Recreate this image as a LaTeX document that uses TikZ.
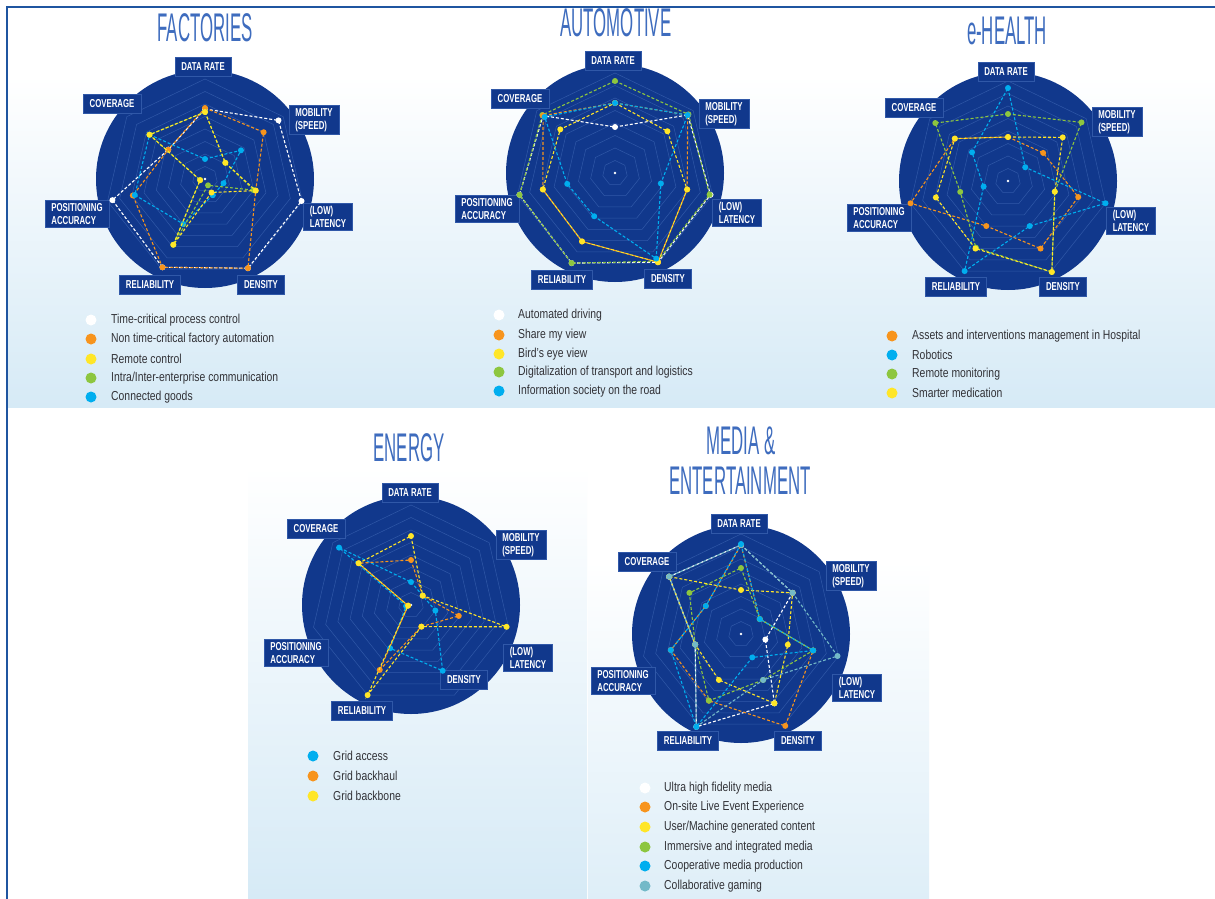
\documentclass[tikz,border=0pt]{standalone}
\usepackage{fontspec}
\setmainfont{Liberation Sans}
\newfontfamily\ttlfont[FakeStretch=0.42]{Liberation Sans}
\newfontfamily\lblfont[FakeStretch=0.68]{Liberation Sans}
\newfontfamily\lgdfont[FakeStretch=0.8]{Liberation Sans}
\usetikzlibrary{calc}
\definecolor{navy}{RGB}{17,56,140}
\definecolor{ringc}{RGB}{48,88,168}
\definecolor{lblue}{RGB}{214,234,246}
\definecolor{framec}{RGB}{31,85,160}
\definecolor{ttlc}{RGB}{62,108,190}
\definecolor{cwhite}{RGB}{255,255,255}
\definecolor{corange}{RGB}{247,148,29}
\definecolor{cyellow}{RGB}{255,230,40}
\definecolor{cgreen}{RGB}{141,198,63}
\definecolor{cblue}{RGB}{0,174,239}
\definecolor{cteal}{RGB}{115,185,200}
\definecolor{lgdtext}{RGB}{50,50,55}
\tikzset{
 ttl/.style={font=\ttlfont\fontsize{40}{40}\selectfont, text=ttlc, inner sep=0pt},
 lbl/.style={fill=navy, draw=ringc, line width=0.5pt, text=white, font=\lblfont\bfseries\fontsize{11.5}{12.5}\selectfont, align=left, inner xsep=6.5pt, inner ysep=3pt, minimum height=19pt},
 ring/.style={draw=ringc, line width=0.5pt},
 ser/.style={dash pattern=on 3pt off 2pt, line width=1.1pt},
 ldot/.style={circle, inner sep=0pt, minimum size=11pt},
 ltext/.style={anchor=west, font=\lgdfont\fontsize{13}{13}\selectfont, text=lgdtext, inner sep=0pt},
}
\newcommand\radarbase[3]{%
  \coordinate (#1) at (#2,#3);
  \fill[navy] (#1) circle (109pt);
  \foreach \k in {1,...,8}{
    \draw[ring] ($(#1)+(-90:{\k*12.5})$) \foreach \j in {1,...,6}{ -- ($(#1)+({-90+\j*360/7}:{\k*12.5})$)} -- cycle;
  }
  \fill[white] (#1) circle (1.3pt);
}
\newcommand\series[3]{%
  \foreach \v [count=\i from 0] in {#3}{\coordinate (#1#2\i) at ($(#1)+({-90+\i*360/7}:\v)$);}
  \draw[ser,#2] (#1#20) -- (#1#21) -- (#1#22) -- (#1#23) -- (#1#24) -- (#1#25) -- (#1#26) -- cycle;
  \foreach \i in {0,...,6}{\fill[#2] (#1#2\i) circle (3pt);}
}
\begin{document}
\begin{tikzpicture}[x=1pt,y=-1pt]
\useasboundingbox (0,0) rectangle (1215,899);
\fill[white] (0,0) rectangle (1215,899);
% panels
\shade[top color=white, bottom color=lblue] (8,75) rectangle (1215,407);
\shade[top color=white, bottom color=lblue] (248,466) rectangle (587,899);
\shade[top color=white, bottom color=lblue!80!white] (588,560) rectangle (929,899);
% frame
\draw[framec, line width=2.2pt] (7,899) -- (7,7) -- (1215,7);

% titles
\node[ttl] (Ft) at (205,28) {FACTORIES};
\node[ttl] (At) at (616,23) {AUTOMOTIVE};
\node[ttl] (Ht) at (1007,31) {e-HEALTH};
\node[ttl] (Et) at (409,448) {ENERGY};
\node[ttl] (Mt1) at (741,441) {MEDIA \&};
\node[ttl] (Mt2) at (740,481) {ENTERTAINMENT};

% ===== FACTORIES
\radarbase{F}{205}{179}
\node[lbl] (Fdr) at (203,67) {DATA RATE};
\node[lbl] (Fcov) at (112,104) {COVERAGE};
\node[lbl] (Fmob) at (314,120) {MOBILITY\\(SPEED)};
\node[lbl] (Flat) at (328,217) {(LOW)\\LATENCY};
\node[lbl] (Fden) at (261,285) {DENSITY};
\node[lbl] (Frel) at (150,285) {RELIABILITY};
\node[lbl] (Fpos) at (77,214) {POSITIONING\\ACCURACY};
\series{F}{cwhite}{70,94,99,99,98,95,47}
\series{F}{corange}{71,75,52,99,98,74,47}
\series{F}{cblue}{20,46,19,18,50,72,71}
\series{F}{cgreen}{67,26,50,7,73,5,71}
\series{F}{cyellow}{67,26,52,15,73,5,71}

% ===== AUTOMOTIVE
\radarbase{A}{615}{173}
\node[lbl] (Adr) at (613,61) {DATA RATE};
\node[lbl] (Acov) at (520,99) {COVERAGE};
\node[lbl] (Amob) at (724,114) {MOBILITY\\(SPEED)};
\node[lbl] (Alat) at (737,213) {(LOW)\\LATENCY};
\node[lbl] (Aden) at (668,279) {DENSITY};
\node[lbl] (Arel) at (562,280) {RELIABILITY};
\node[lbl] (Apos) at (487,209) {POSITIONING\\ACCURACY};
\series{A}{cwhite}{46,93,98,99,100,98,92}
\series{A}{cgreen}{92,94,97,98,100,98,93}
\series{A}{corange}{70,93,74,99,76,74,92}
\series{A}{cyellow}{70,67,74,99,76,74,70}
\series{A}{cblue}{70,93,47,95,48,49,90}

% ===== e-HEALTH
\radarbase{H}{1008}{181}
\node[lbl] (Hdr) at (1006,72) {DATA RATE};
\node[lbl] (Hcov) at (914,108) {COVERAGE};
\node[lbl] (Hmob) at (1117,122) {MOBILITY\\(SPEED)};
\node[lbl] (Hlat) at (1131,221) {(LOW)\\LATENCY};
\node[lbl] (Hden) at (1063,287) {DENSITY};
\node[lbl] (Hrel) at (956,287) {RELIABILITY};
\node[lbl] (Hpos) at (879,218) {POSITIONING\\ACCURACY};
\series{H}{corange}{44,45,72,75,50,100,68}
\series{H}{cblue}{93,22,100,50,100,25,46}
\series{H}{cgreen}{67,94,48,101,74,49,93}
\series{H}{cyellow}{44,70,48,101,75,74,68}

% ===== ENERGY
\radarbase{E}{411}{605}
\node[lbl] (Edr) at (410,493) {DATA RATE};
\node[lbl] (Ecov) at (316,529) {COVERAGE};
\node[lbl] (Emob) at (521,545) {MOBILITY\\(SPEED)};
\node[lbl] (Elat) at (528,658) {(LOW)\\LATENCY};
\node[lbl] (Eden) at (464,680) {DENSITY};
\node[lbl] (Erel) at (362,711) {RELIABILITY};
\node[lbl] (Epos) at (296,653) {POSITIONING\\ACCURACY};
\series{E}{cblue}{23,15,25,73,48,5,92}
\series{E}{corange}{45,15,49,24,72,3,67}
\series{E}{cyellow}{69,15,98,24,100,3,67}

% ===== MEDIA
\radarbase{M}{741}{634}
\node[lbl] (Mdr) at (739,524) {DATA RATE};
\node[lbl] (Mcov) at (647,562) {COVERAGE};
\node[lbl] (Mmob) at (851,576) {MOBILITY\\(SPEED)};
\node[lbl] (Mlat) at (857,688) {(LOW)\\LATENCY};
\node[lbl] (Mden) at (798,741) {DENSITY};
\node[lbl] (Mrel) at (688,741) {RELIABILITY};
\node[lbl] (Mpos) at (623,681) {POSITIONING\\ACCURACY};
\series{M}{cwhite}{89,66,25,77,103,47,92}
\series{M}{corange}{89,24,74,102,74,72,45}
\series{M}{cyellow}{44,66,48,77,51,47,92}
\series{M}{cgreen}{66,24,74,51,74,47,66}
\series{M}{cteal}{89,66,99,51,103,47,92}
\series{M}{cblue}{90,24,74,26,103,72,45}

% ===== legends
\node[ldot, fill=cwhite] (Fl1) at (91,320) {}; \node[ltext] (Fx1) at (111,320) {Time-critical process control};
\node[ldot, fill=corange] (Fl2) at (91,339) {}; \node[ltext] (Fx2) at (111,339) {Non time-critical factory automation};
\node[ldot, fill=cyellow] (Fl3) at (91,359) {}; \node[ltext] (Fx3) at (111,359) {Remote control};
\node[ldot, fill=cgreen] (Fl4) at (91,378) {}; \node[ltext] (Fx4) at (111,378) {Intra/Inter-enterprise communication};
\node[ldot, fill=cblue] (Fl5) at (91,397) {}; \node[ltext] (Fx5) at (111,397) {Connected goods};

\node[ldot, fill=cwhite] (Al1) at (499,315) {}; \node[ltext] (Ax1) at (518,315) {Automated driving};
\node[ldot, fill=corange] (Al2) at (499,335) {}; \node[ltext] (Ax2) at (518,335) {Share my view};
\node[ldot, fill=cyellow] (Al3) at (499,354) {}; \node[ltext] (Ax3) at (518,354) {Bird’s eye view};
\node[ldot, fill=cgreen] (Al4) at (499,372) {}; \node[ltext] (Ax4) at (518,372) {Digitalization of transport and logistics};
\node[ldot, fill=cblue] (Al5) at (499,391) {}; \node[ltext] (Ax5) at (518,391) {Information society on the road};

\node[ldot, fill=corange] (Hl1) at (892,336) {}; \node[ltext] (Hx1) at (912,336) {Assets and interventions management in Hospital};
\node[ldot, fill=cblue] (Hl2) at (892,355) {}; \node[ltext] (Hx2) at (912,355) {Robotics};
\node[ldot, fill=cgreen] (Hl3) at (892,374) {}; \node[ltext] (Hx3) at (912,374) {Remote monitoring};
\node[ldot, fill=cyellow] (Hl4) at (892,393) {}; \node[ltext] (Hx4) at (912,393) {Smarter medication};

\node[ldot, fill=cblue] (El1) at (313,756) {}; \node[ltext] (Ex1) at (333,756) {Grid access};
\node[ldot, fill=corange] (El2) at (313,776) {}; \node[ltext] (Ex2) at (333,776) {Grid backhaul};
\node[ldot, fill=cyellow] (El3) at (313,796) {}; \node[ltext] (Ex3) at (333,796) {Grid backbone};

\node[ldot, fill=cwhite] (Ml1) at (645,788) {}; \node[ltext] (Mx1) at (664,788) {Ultra high fidelity media};
\node[ldot, fill=corange] (Ml2) at (645,807) {}; \node[ltext] (Mx2) at (664,807) {On-site Live Event Experience};
\node[ldot, fill=cyellow] (Ml3) at (645,827) {}; \node[ltext] (Mx3) at (664,827) {User/Machine generated content};
\node[ldot, fill=cgreen] (Ml4) at (645,847) {}; \node[ltext] (Mx4) at (664,847) {Immersive and integrated media};
\node[ldot, fill=cblue] (Ml5) at (645,866) {}; \node[ltext] (Mx5) at (664,866) {Cooperative media production};
\node[ldot, fill=cteal] (Ml6) at (645,886) {}; \node[ltext] (Mx6) at (664,886) {Collaborative gaming};
\end{tikzpicture}
\end{document}
